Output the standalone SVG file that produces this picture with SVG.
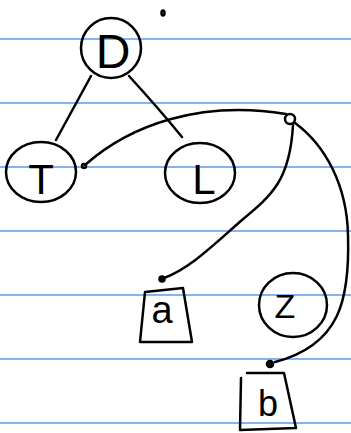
<svg xmlns="http://www.w3.org/2000/svg" width="351" height="433" viewBox="0 0 351 433">
<style>
.rule{stroke:#5a9be6;stroke-width:1.5}
.ink{fill:none;stroke:#000;stroke-width:2.5;stroke-linecap:round;stroke-linejoin:round}
.lbl{font-family:"Liberation Sans",sans-serif;fill:#000;text-anchor:middle}
.dot{fill:#000;stroke:#000;stroke-width:1.5}
</style>
<rect width="351" height="433" fill="#fff"/>
<g id="rules">
<line class="rule" x1="0" y1="39" x2="351" y2="39"/>
<line class="rule" x1="0" y1="103" x2="351" y2="103"/>
<line class="rule" x1="0" y1="167" x2="351" y2="167"/>
<line class="rule" x1="0" y1="231" x2="351" y2="231"/>
<line class="rule" x1="0" y1="295" x2="351" y2="295"/>
<line class="rule" x1="0" y1="359" x2="351" y2="359"/>
<line class="rule" x1="0" y1="423" x2="351" y2="423"/>
</g>
<g id="connectors">
<path class="ink" d="M91,76 L56,140"/>
<path class="ink" d="M129,76 Q160,110 182,137"/>
<path class="ink" d="M85,165 C130,125 200,100 286,114"/>
<path class="ink" d="M293,125 C290,180 272,195 242,220 C210,248 190,268 164,278"/>
<path class="ink" d="M295,123 C325,145 347,185 348,235 C350,300 340,345 275,362"/>
</g>
<g id="stray"><ellipse class="ink" cx="163" cy="13" rx="1.5" ry="2.5" stroke-width="1.8"/></g>
<g id="node-D">
<ellipse class="ink" cx="111" cy="48" rx="30" ry="30"/>
<text class="lbl" x="113" y="68" font-size="48">D</text>
</g>
<g id="node-T">
<ellipse class="ink" cx="41" cy="172" rx="35" ry="30"/>
<text class="lbl" x="41" y="194" font-size="42">T</text>
</g>
<g id="node-L">
<ellipse class="ink" cx="200" cy="173" rx="35" ry="30"/>
<text class="lbl" x="204" y="194" font-size="42">L</text>
</g>
<g id="port-T"><ellipse class="ink" cx="84" cy="166" rx="2" ry="2" stroke-width="1.8"/></g>
<g id="port-ring"><circle class="ink" cx="290" cy="119" r="5"/></g>
<g id="port-a"><circle class="dot" cx="162" cy="279" r="3"/></g>
<g id="port-b"><circle class="dot" cx="270" cy="364" r="3.5"/></g>
<g id="node-a">
<path class="ink" d="M145,292 L183,288 L192,342 L140,342 Z"/>
<text class="lbl" x="162" y="323" font-size="38">a</text>
</g>
<g id="node-Z">
<ellipse class="ink" cx="293" cy="305" rx="34" ry="32"/>
<text class="lbl" x="285" y="318" font-size="34">Z</text>
</g>
<g id="node-b">
<path class="ink" d="M247,373 L284,373 L296,428 L240,430 L241,378"/>
<text class="lbl" x="268" y="416" font-size="36">b</text>
</g>
</svg>
